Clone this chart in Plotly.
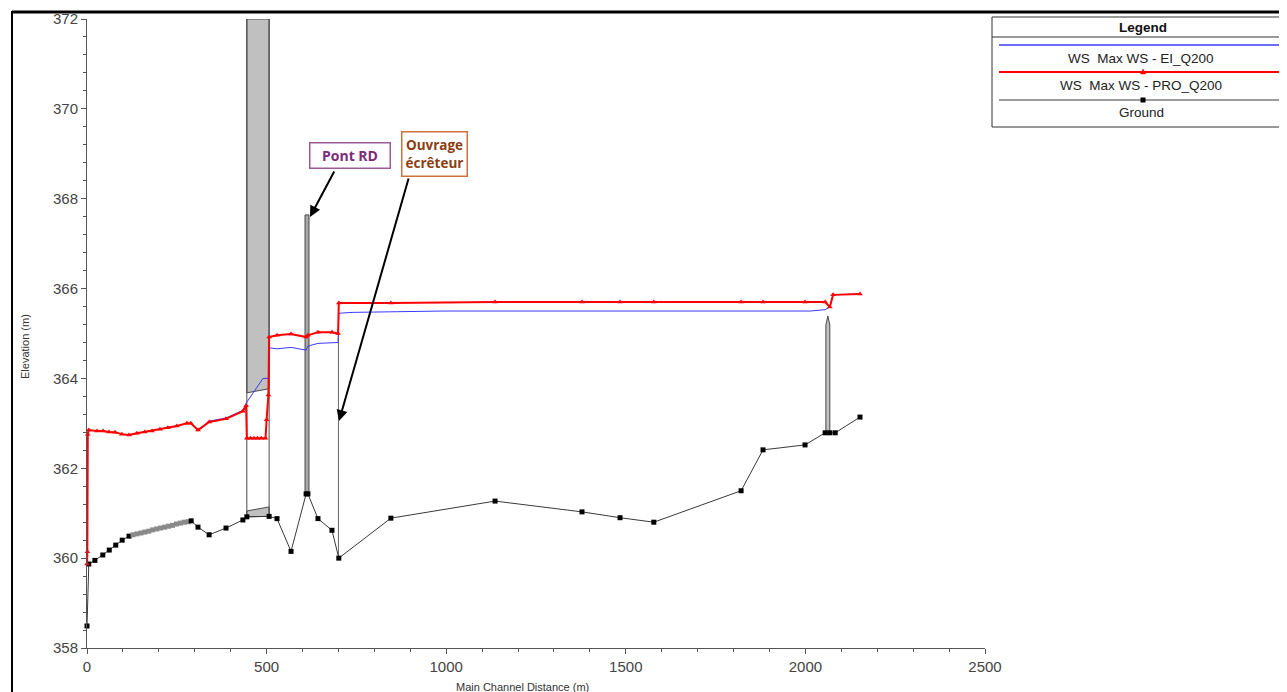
import plotly.graph_objects as go

# ---------------- data ----------------
ground_x = [0, 5, 22, 44, 62, 80, 98, 117, 128, 139, 150, 161, 172, 183, 194, 205, 216, 227, 238,
            249, 260, 271, 282, 290, 309, 340, 387, 434, 445, 507, 529, 568, 610, 615, 643, 682,
            701, 846, 1136, 1378, 1484, 1578, 1821, 1882, 1999, 2055, 2068, 2083, 2152]
ground_y = [358.49, 359.87, 359.95, 360.07, 360.18, 360.29, 360.40, 360.49, 360.52, 360.54, 360.56,
            360.58, 360.60, 360.63, 360.65, 360.67, 360.69, 360.71, 360.73, 360.76, 360.78, 360.80,
            360.81, 360.83, 360.69, 360.52, 360.67, 360.85, 360.92, 360.93, 360.88, 360.15, 361.43,
            361.43, 360.88, 360.62, 360.00, 360.89, 361.27, 361.03, 360.90, 360.80, 361.50, 362.41,
            362.52, 362.79, 362.79, 362.79, 363.14]

pro_x = [0, 1, 2, 5, 28, 45, 61, 78, 97, 117, 139, 161, 181, 203, 225, 250, 278, 289, 309, 340,
         387, 434, 443, 445, 455, 465, 475, 485, 497, 500, 505, 507, 529, 568, 610, 615, 643, 682,
         699, 701, 846, 1136, 1378, 1484, 1578, 1821, 1882, 1999, 2055, 2068, 2077, 2152]
pro_y = [359.87, 360.14, 362.76, 362.85, 362.83, 362.83, 362.81, 362.80, 362.76, 362.74, 362.78,
         362.81, 362.83, 362.87, 362.90, 362.94, 363.00, 363.00, 362.85, 363.03, 363.10, 363.27,
         363.39, 362.67, 362.67, 362.67, 362.67, 362.67, 362.67, 363.08, 363.63, 364.92, 364.96,
         364.99, 364.92, 364.96, 365.03, 365.03, 365.00, 365.68, 365.68, 365.70, 365.70, 365.70,
         365.70, 365.70, 365.70, 365.70, 365.70, 365.59, 365.86, 365.88]

ei_x = [0, 1, 2, 5, 28, 45, 61, 78, 97, 117, 139, 161, 181, 203, 225, 250, 278, 289, 309, 340,
        387, 434, 443, 490, 506, 507, 529, 568, 610, 615, 643, 682, 699, 701, 738, 991, 2013,
        2055, 2068, 2077, 2152]
ei_y = [359.87, 360.14, 362.76, 362.85, 362.83, 362.83, 362.81, 362.80, 362.76, 362.74, 362.78,
        362.81, 362.83, 362.87, 362.90, 362.94, 363.00, 363.00, 362.85, 363.05, 363.12, 363.29,
        363.45, 364.00, 364.00, 364.68, 364.66, 364.69, 364.63, 364.72, 364.78, 364.80, 364.80,
        365.45, 365.47, 365.50, 365.50, 365.53, 365.59, 365.86, 365.88]

# structures
weir_x = [445, 507]
weir_top = [372.0, 372.0]
weir_low_chord = [363.68, 363.77]
weir_sill = [361.05, 361.14]
weir_ground = [360.92, 360.93]

pont_x = [607, 618]
pont_bottom = 361.43
pont_top = 367.64

ouvrage_x = 700
ouvrage_bottom = 360.00
ouvrage_top = 365.00

bridge2_x = [2057, 2068]
bridge2_bottom = 362.79
bridge2_top = 365.39

x_ticks = [0, 500, 1000, 1500, 2000, 2500]
y_ticks = [358, 360, 362, 364, 366, 368, 370, 372]

series_names = ["WS  Max WS - EI_Q200", "WS  Max WS - PRO_Q200", "Ground"]

# ---------------- layout helpers ----------------
OFF = 8                      # page body margin
W, H = 1287 - OFF, 692 - OFF
L, R, T, B = 87, 985, 19, 648   # plot area in page pixels


def PX(px):
    return (px - L) / (R - L)


def PY(py):
    return (B - py) / (B - T)


FONT = "Liberation Sans, Arial, sans-serif"
GRAY_FILL = "#C0C0C0"
OUTLINE = "#4a4a4a"

fig = go.Figure()

# big weir / culvert structure
fig.add_trace(go.Scatter(
    x=[weir_x[0], weir_x[1], weir_x[1], weir_x[0], weir_x[0]],
    y=[weir_low_chord[0], weir_low_chord[1], weir_top[1], weir_top[0], weir_low_chord[0]],
    mode="lines", fill="toself", fillcolor=GRAY_FILL,
    line=dict(color=OUTLINE, width=1), hoverinfo="skip", showlegend=False))
fig.add_trace(go.Scatter(
    x=[weir_x[0], weir_x[1], weir_x[1], weir_x[0], weir_x[0]],
    y=[weir_ground[0], weir_ground[1], weir_sill[1], weir_sill[0], weir_ground[0]],
    mode="lines", fill="toself", fillcolor=GRAY_FILL,
    line=dict(color=OUTLINE, width=1), hoverinfo="skip", showlegend=False))
fig.add_trace(go.Scatter(
    x=[weir_x[0], weir_x[0], None, weir_x[1], weir_x[1]],
    y=[weir_ground[0], weir_top[0], None, weir_ground[1], weir_top[1]],
    mode="lines", line=dict(color=OUTLINE, width=1), hoverinfo="skip", showlegend=False))

# Pont RD
fig.add_trace(go.Scatter(
    x=[pont_x[0], pont_x[1], pont_x[1], pont_x[0], pont_x[0]],
    y=[pont_bottom, pont_bottom, pont_top, pont_top, pont_bottom],
    mode="lines", fill="toself", fillcolor="#A8A8A8",
    line=dict(color=OUTLINE, width=1), hoverinfo="skip", showlegend=False))

# Ouvrage ecreteur (thin wall)
fig.add_trace(go.Scatter(
    x=[ouvrage_x, ouvrage_x], y=[ouvrage_bottom, ouvrage_top],
    mode="lines", line=dict(color="#6a6a6a", width=1), hoverinfo="skip", showlegend=False))

# bridge near 2060
bmid = (bridge2_x[0] + bridge2_x[1]) / 2
fig.add_trace(go.Scatter(
    x=[bridge2_x[0], bridge2_x[1], bridge2_x[1], bmid, bridge2_x[0], bridge2_x[0]],
    y=[bridge2_bottom, bridge2_bottom, bridge2_top - 0.2, bridge2_top, bridge2_top - 0.2, bridge2_bottom],
    mode="lines", fill="toself", fillcolor=GRAY_FILL,
    line=dict(color=OUTLINE, width=1), hoverinfo="skip", showlegend=False))

# ground
gcolors = []
for i in range(len(ground_x)):
    dense = 0 < i < len(ground_x) - 1 and (ground_x[i] - ground_x[i - 1] < 14 and ground_x[i + 1] - ground_x[i] < 14)
    gcolors.append("#8a8a8a" if dense else "black")
fig.add_trace(go.Scatter(
    x=ground_x, y=ground_y, mode="lines+markers", name=series_names[2],
    line=dict(color="#3a3a3a", width=1),
    marker=dict(symbol="square", size=5, color=gcolors, line=dict(width=0)),
    cliponaxis=False, showlegend=False))

# WS EI
fig.add_trace(go.Scatter(
    x=ei_x, y=ei_y, mode="lines", name=series_names[0],
    line=dict(color="#3A3AFF", width=1), showlegend=False))

# WS PRO
fig.add_trace(go.Scatter(
    x=pro_x, y=pro_y, mode="lines+markers", name=series_names[1],
    line=dict(color="#FF0000", width=2),
    marker=dict(symbol="triangle-up", size=5, color="#FF0000"),
    cliponaxis=False, showlegend=False))

shapes = []
annotations = []

# outer frame
shapes.append(dict(type="line", xref="paper", yref="paper", x0=PX(12), x1=PX(1295), y0=PY(12), y1=PY(12),
                   line=dict(color="black", width=3)))
shapes.append(dict(type="line", xref="paper", yref="paper", x0=PX(12), x1=PX(12), y0=PY(11), y1=PY(700),
                   line=dict(color="black", width=2)))

# legend box
shapes.append(dict(type="rect", xref="paper", yref="paper", x0=PX(992), x1=PX(1295), y0=PY(127), y1=PY(17),
                   line=dict(color="#333", width=1), fillcolor="white"))
shapes.append(dict(type="line", xref="paper", yref="paper", x0=PX(992), x1=PX(1295), y0=PY(37), y1=PY(37),
                   line=dict(color="#333", width=1)))
shapes.append(dict(type="line", xref="paper", yref="paper", x0=PX(999), x1=PX(1295), y0=PY(45), y1=PY(45),
                   line=dict(color="#3A3AFF", width=1.5)))
shapes.append(dict(type="line", xref="paper", yref="paper", x0=PX(999), x1=PX(1295), y0=PY(72), y1=PY(72),
                   line=dict(color="#FF0000", width=2)))
shapes.append(dict(type="path", xref="paper", yref="paper",
                   path=f"M {PX(1140.5)},{PY(74)} L {PX(1145.5)},{PY(74)} L {PX(1143)},{PY(69)} Z",
                   fillcolor="#FF0000", line=dict(color="#FF0000", width=0.5)))
shapes.append(dict(type="line", xref="paper", yref="paper", x0=PX(999), x1=PX(1295), y0=PY(100), y1=PY(100),
                   line=dict(color="#3a3a3a", width=1)))
shapes.append(dict(type="rect", xref="paper", yref="paper", x0=PX(1140.5), x1=PX(1145.5), y0=PY(102.5),
                   y1=PY(97.5), fillcolor="black", line=dict(width=0)))

annotations.append(dict(xref="paper", yref="paper", x=PX(1143), y=PY(27), text="<b>Legend</b>",
                        showarrow=False, font=dict(family=FONT, size=13.5, color="#111"),
                        xanchor="center", yanchor="middle"))
for txt, py in zip(series_names, [58, 85, 113]):
    annotations.append(dict(xref="paper", yref="paper", x=PX(1141), y=PY(py), text=txt,
                            showarrow=False, font=dict(family=FONT, size=13.5, color="#222"),
                            xanchor="center", yanchor="middle"))

# axis titles
annotations.append(dict(xref="paper", yref="paper", x=PX(25), y=PY(347), text="Elevation (m)",
                        textangle=-90, showarrow=False, font=dict(family=FONT, size=11, color="#333"),
                        xanchor="center", yanchor="middle"))
annotations.append(dict(xref="paper", yref="paper", x=PX(522), y=PY(687), text="Main Channel Distance (m)",
                        showarrow=False, font=dict(family=FONT, size=11, color="#333"),
                        xanchor="center", yanchor="middle"))


def dx(px):
    return (px - L) * (x_ticks[-1] - x_ticks[0]) / (R - L) + x_ticks[0]


def dy(py):
    return y_ticks[-1] - (py - T) * (y_ticks[-1] - y_ticks[0]) / (B - T)


# callout boxes
annotations.append(dict(x=dx(350), y=dy(155.5), xref="x", yref="y", text="<b>Pont RD</b>",
                        showarrow=False, font=dict(family="Open Sans, sans-serif", size=14, color="#7B2C7B"),
                        bordercolor="#9A5A9A", borderwidth=1.5, bgcolor="white",
                        width=77, height=22, borderpad=1, xanchor="center", yanchor="middle"))
annotations.append(dict(x=dx(434.5), y=dy(154), xref="x", yref="y", text="<b>Ouvrage<br>écrêteur</b>",
                        showarrow=False, font=dict(family="Open Sans, sans-serif", size=13.5, color="#8B3E12"),
                        bordercolor="#D0703A", borderwidth=1.5, bgcolor="white",
                        width=62, height=41, borderpad=1, xanchor="center", yanchor="middle"))
# arrows
annotations.append(dict(x=dx(310), y=dy(217), ax=dx(335), ay=dy(170), xref="x", yref="y",
                        axref="x", ayref="y", text="", showarrow=True, arrowhead=2, arrowsize=1.1,
                        arrowwidth=2, arrowcolor="black"))
annotations.append(dict(x=dx(339), y=dy(421), ax=dx(409), ay=dy(177), xref="x", yref="y",
                        axref="x", ayref="y", text="", showarrow=True, arrowhead=2, arrowsize=1.1,
                        arrowwidth=2, arrowcolor="black"))

axis_common = dict(showgrid=False, zeroline=False, showline=True, linecolor="#555", linewidth=1,
                   ticks="outside", ticklen=5, tickcolor="#555", automargin=False,
                   tickfont=dict(family=FONT, size=15, color="#444"))

fig.update_layout(
    width=W, height=H, autosize=False,
    margin=dict(l=L - OFF, r=W - (R - OFF), t=T - OFF, b=H - (B - OFF), pad=0, autoexpand=False),
    paper_bgcolor="white", plot_bgcolor="white",
    showlegend=False,
    xaxis=dict(range=[x_ticks[0], x_ticks[-1]], tickvals=x_ticks,
               minor=dict(dtick=100, ticks="outside", ticklen=3, tickcolor="#555"), **axis_common),
    yaxis=dict(range=[y_ticks[0], y_ticks[-1]], tickvals=y_ticks,
               minor=dict(dtick=0.4, ticks="outside", ticklen=3, tickcolor="#555"), **axis_common),
    shapes=shapes, annotations=annotations,
)

fig.write_html("out.html")
